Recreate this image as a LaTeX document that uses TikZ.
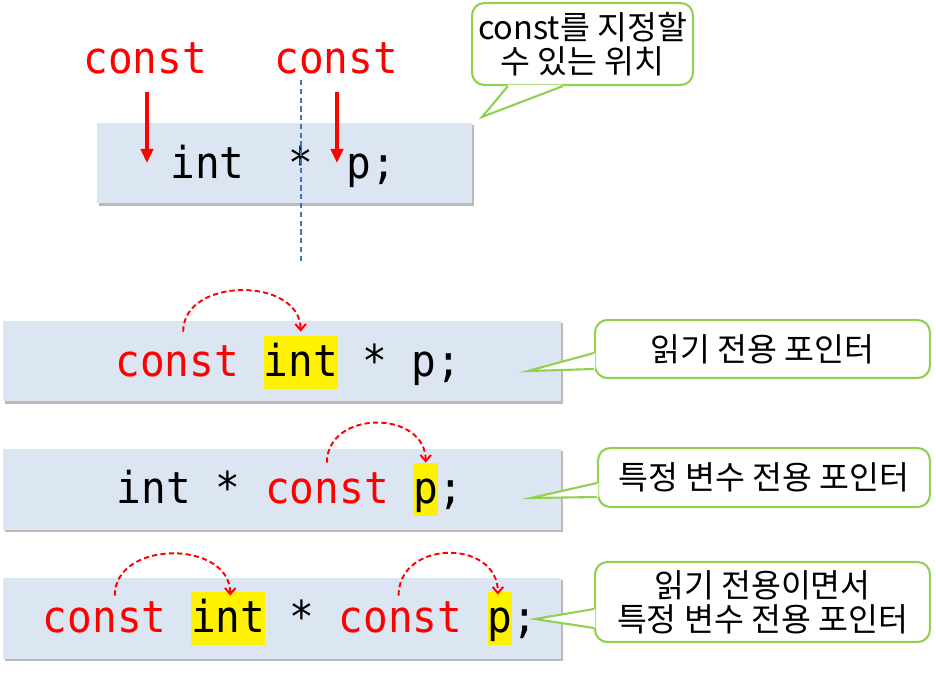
\documentclass[tikz,border=0pt]{standalone}
\usepackage{fontspec}
\usepackage{tikz}
\usetikzlibrary{positioning,arrows.meta,calc,shadows}
\newfontfamily\codefont[FakeStretch=0.935]{DejaVu Sans Mono}
\newfontfamily\kofont{Noto Sans CJK KR}
\definecolor{boxblue}{HTML}{DCE6F2}
\definecolor{tipgreen}{HTML}{92D050}
\definecolor{guideblue}{HTML}{4472C4}

\begin{document}
\begin{tikzpicture}[
    x=0.02cm, y=-0.02cm,
    codebox/.style={fill=boxblue, minimum height=1.62cm, inner sep=0pt,
        drop shadow={shadow xshift=1.2pt, shadow yshift=-1.5pt, fill=black!45, opacity=.6}},
    code/.style={font=\codefont\fontsize{25}{30}\selectfont, inner sep=0pt,
        text height=22.8pt, text depth=7.4pt, anchor=base west},
    kw/.style={code, text=red},
    hl/.style={code, fill=yellow},
    bubble/.style={draw=tipgreen, line width=1.2pt, fill=white, rounded corners=7pt,
        inner sep=0pt, align=center, font=\kofont\fontsize{18.5}{19.4}\selectfont},
    tail/.style={draw=tipgreen, line width=1.2pt, line join=miter},
    jump/.style={red, dash pattern=on 3pt off 1.8pt, line width=1.1pt,
        -{Straight Barb[length=3.5pt,width=6pt]}},
    put/.style={red, line width=1.8pt, -{Triangle[length=8pt,width=7pt]}}
]
\useasboundingbox (0,0) rectangle (936,683);

% code boxes
\node[codebox, minimum width=7.5cm] (r0) at (284.5,163) {};
\node[codebox, minimum width=11.16cm] (r1) at (282,361) {};
\node[codebox, minimum width=11.16cm] (r2) at (282,489) {};
\node[codebox, minimum width=11.16cm] (r3) at (282,618) {};

% where const can go
\node[kw] (k1) at (83,73) {const};
\node[kw] (k2) at (274,73) {const};
\node[code] (t1) at (170,178) {int};
\node[code] (t2) at (288.6,178) {*};
\node[code] (t3) at (346,178) {p;};
\coordinate (d1) at (147,163);
\coordinate (d2) at (337,163);
\draw[put, shorten <=3pt] (k1.south -| d1) -- (d1);
\draw[put, shorten <=3pt] (k2.south -| d2) -- (d2);
\draw[guideblue, line width=0.9pt, dash pattern=on 3pt off 2pt] (301,80) -- (301,263);

% const int * p;
\node[kw] (c1) at (115,376) {const};
\node[hl] (i1) at (263.2,376) {int};
\node[code] (s1) at (362,376) {*};
\node[code] (p1) at (411.4,376) {p;};
\draw[jump] ($(c1.north)+(6,-4)$) .. controls +(0,-55) and +(0,-55) .. ($(i1.north)+(0,-4)$);

% int * const p;
\node[code] (i2) at (116.6,503) {int};
\node[code] (s2) at (215.4,503) {*};
\node[kw] (c2) at (264.8,503) {const};
\node[hl] (p2) at (413,503) {p};
\node[code] (e2) at (437.7,503) {;};
\draw[jump] (c2.north) .. controls +(0,-53) and +(0,-53) .. (p2.north);

% const int * const p;
\node[kw] (c3) at (42.6,632) {const};
\node[hl] (i3) at (190.8,632) {int};
\node[code] (s3) at (289.6,632) {*};
\node[kw] (c4) at (338.4,632) {const};
\node[hl] (p3) at (487.2,632) {p};
\node[code] (e3) at (511.9,632) {;};
\draw[jump] ($(c3.north)+(10,4)$) .. controls +(0,-56) and +(0,-56) .. ($(i3.north)+(2,4)$);
\draw[jump] ($(c4.north)+(-2,4)$) .. controls +(0,-56) and +(0,-56) .. ($(p3.north)+(-2,3)$);

% callouts
\node[bubble, minimum width=4.42cm, minimum height=1.64cm] (b0) at (582.5,44) {const를 지정할\\수 있는 위치};
\coordinate (q0) at (482,117);
\fill[white] ($(b0.south)+(-74.5,-1.5)$) -- (q0) -- ($(b0.south)+(-19.5,-1.5)$) -- cycle;
\draw[tail] ($(b0.south)+(-74.5,0)$) -- (q0) -- ($(b0.south)+(-19.5,0)$);

\node[bubble, minimum width=6.7cm, minimum height=1.16cm] (b1) at (762.5,349) {읽기 전용 포인터};
\coordinate (q1) at (528,371);
\fill[white] ($(b1.west)+(1.5,4)$) -- (q1) -- ($(b1.west)+(1.5,20)$) -- cycle;
\draw[tail] ($(b1.west)+(0,4)$) -- (q1) -- ($(b1.west)+(0,20)$);

\node[bubble, minimum width=6.64cm, minimum height=1.18cm] (b2) at (764,477.5) {특정 변수 전용 포인터};
\coordinate (q2) at (531,498);
\fill[white] ($(b2.west)+(1.5,5.5)$) -- (q2) -- ($(b2.west)+(1.5,19.5)$) -- cycle;
\draw[tail] ($(b2.west)+(0,5.5)$) -- (q2) -- ($(b2.west)+(0,19.5)$);

\node[bubble, minimum width=6.7cm, minimum height=1.6cm] (b3) at (762.5,602) {읽기 전용이면서\\특정 변수 전용 포인터};
\coordinate (q3) at (535,619);
\fill[white] ($(b3.west)+(1.5,7)$) -- (q3) -- ($(b3.west)+(1.5,26)$) -- cycle;
\draw[tail] ($(b3.west)+(0,7)$) -- (q3) -- ($(b3.west)+(0,26)$);

\end{tikzpicture}
\end{document}
